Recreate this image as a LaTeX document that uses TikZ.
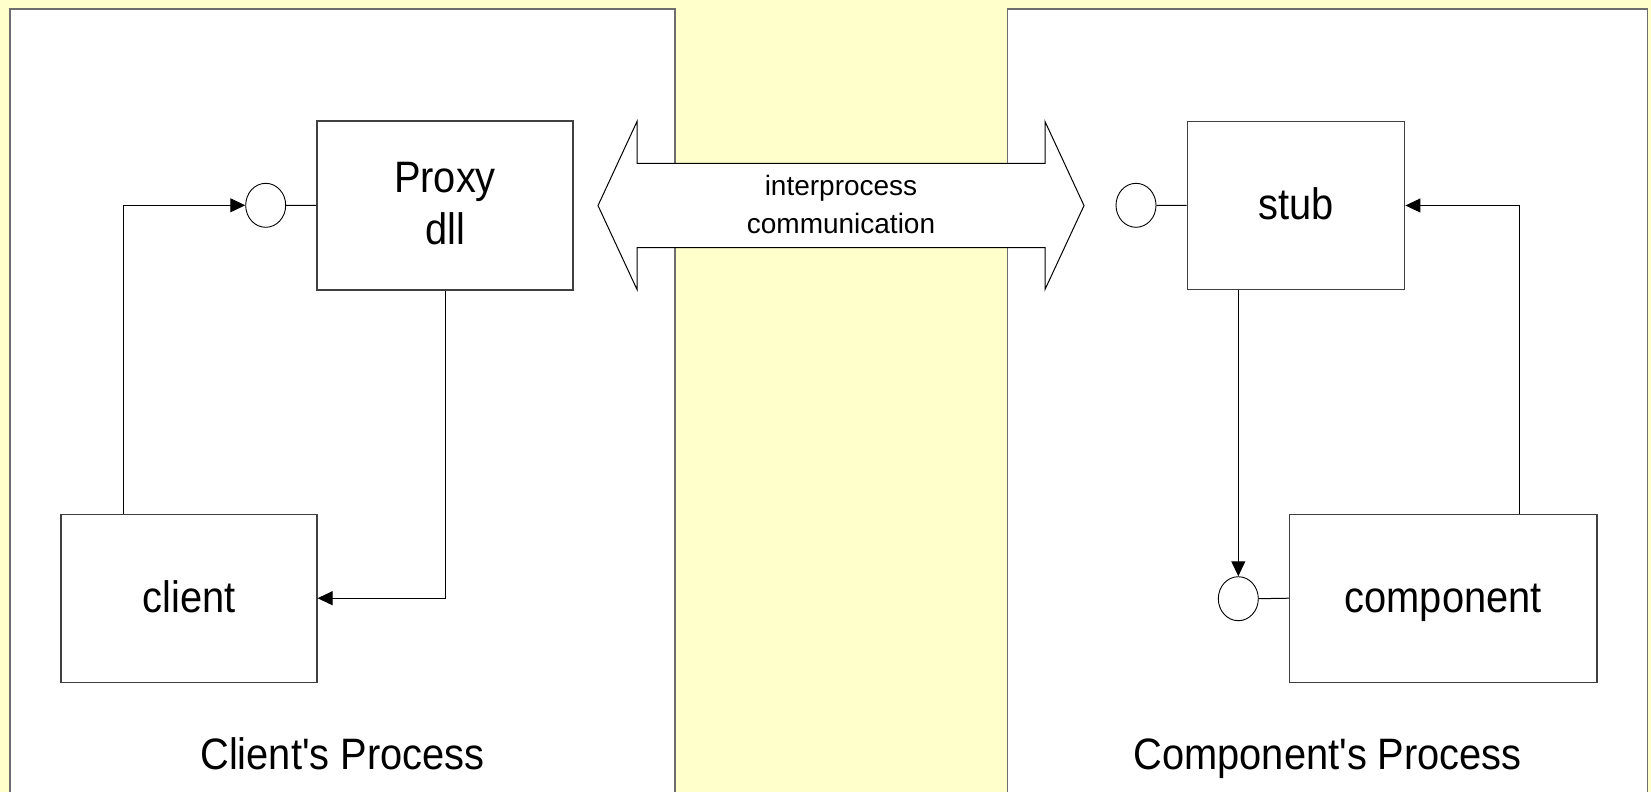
\documentclass[tikz,border=0pt]{standalone}
\usepackage{fontspec}
\setmainfont{Liberation Sans}
\newfontfamily\labelfont[FakeStretch=0.905]{Liberation Sans}
\usetikzlibrary{shapes.geometric,arrows.meta}
\definecolor{paper}{HTML}{FFFFCC}
\definecolor{panelline}{HTML}{6E6E6E}
\definecolor{boxline}{HTML}{404040}
\tikzset{
  part/.style={draw=boxline, line width=1.2pt, fill=white, inner sep=0pt,
    font=\labelfont\fontsize{44}{51.5}\selectfont, text height=28pt, text depth=0pt},
  port/.style={ellipse, draw=black, line width=0.9pt, fill=white,
    minimum width=40pt, minimum height=44pt, inner sep=0pt},
  conn/.style={draw=black, line width=1pt},
  flow/.style={conn, -{Triangle[length=15pt,width=14pt]}},
  caption/.style={font=\labelfont\fontsize{44}{51.5}\selectfont, anchor=base, inner sep=0pt},
  panel/.style={draw=panelline, line width=1.5pt},
}
\begin{document}
\begin{tikzpicture}[x=1pt,y=-1pt]
\path[use as bounding box, clip] (0,0) rectangle (1651,792);
\fill[paper] (0,0) rectangle (1651,792);

% the two process panels, open at the bottom
\fill[white] (9.8,9) rectangle (675,800);
\draw[panel] (9.8,800) -- (9.8,9) -- (675,9) -- (675,800);
\fill[white] (1007.5,9) rectangle (1647.5,800);
\draw[panel] (1007.5,800) -- (1007.5,9) -- (1647.5,9) -- (1647.5,800);

% double-headed arrow for the IPC channel
\draw[black, line width=1pt, fill=white]
  (598,205.6) -- (637,121.5) -- (637,163.3) -- (1045,163.3) -- (1045,121.5)
  -- (1084,205.6) -- (1045,289.5) -- (1045,247.7) -- (637,247.7) -- (637,289.5) -- cycle;
\node[font=\fontsize{28}{38}\selectfont, align=center, inner sep=0pt] (ipc) at (841,204)
  {interprocess\\communication};

% client side
\node[part, minimum width=256pt, minimum height=169pt, align=center,
      text height=, text depth=4pt] (proxy) at (445,205.5) {Proxy\\dll};
\node[part, minimum width=256pt, minimum height=168pt] (client) at (189,598.2) {client};
\node[port] (cl) at (265.7,205.3) {};

% component side
\node[part, minimum width=217.6pt, minimum height=168.4pt] (stub) at (1296,205.5) {stub};
\node[part, minimum width=307.6pt, minimum height=168pt] (comp) at (1443.2,598.2) {component};
\node[port] (sl) at (1136,205.3) {};
\node[port] (cc) at (1238.3,598.7) {};

% connectors
\draw[conn] (cl.east) -- (proxy.west);
\draw[flow] ([xshift=63.5pt]client.north west) |- (cl.west);
\draw[flow] (proxy.south) |- (client.east);
\draw[conn] (sl.east) -- (stub.west);
\draw[conn] (cc.east) -- (comp.west);
\draw[flow] (cc.north |- stub.south) -- (cc.north);
\draw[flow] ([xshift=230.4pt]comp.north west) |- (stub.east);

% panel captions
\node[caption] (clientproc) at (342.4,769) {Client's Process};
\node[caption] (compproc) at (1327.7,769) {Component's Process};
\end{tikzpicture}
\end{document}
